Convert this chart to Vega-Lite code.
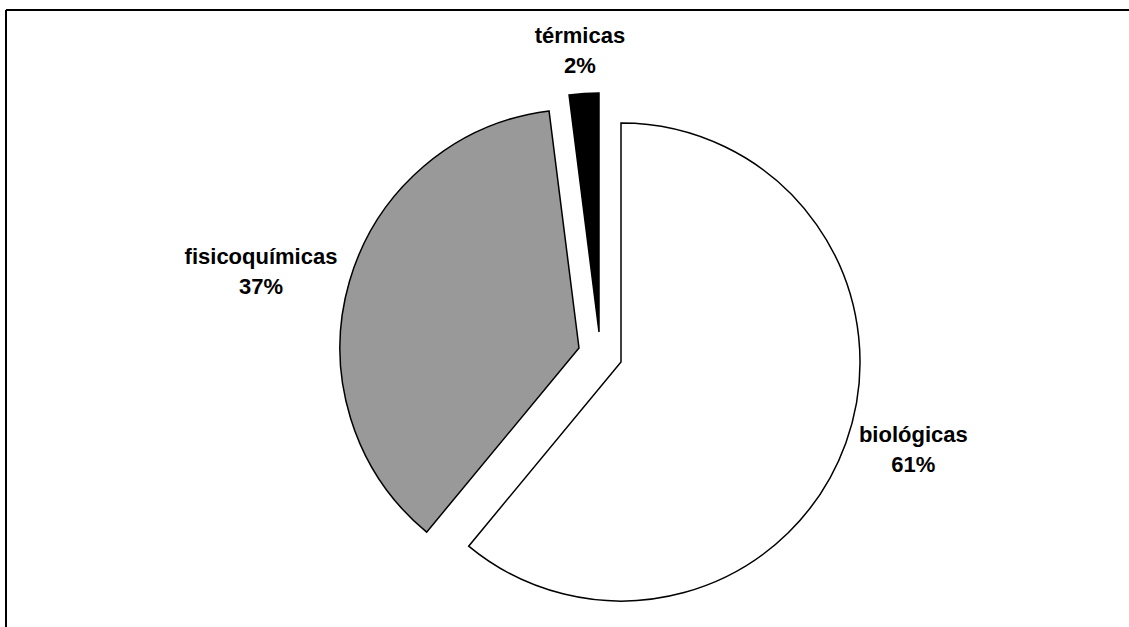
{
  "$schema": "https://vega.github.io/schema/vega-lite/v6.json",
  "width": 1188,
  "height": 690,
  "autosize": {"type": "none"},
  "padding": {"left": 6, "top": 10, "right": -65, "bottom": -73},
  "background": "white",
  "view": {"stroke": null},
  "data": {
    "values": [
      {"categoria": "biológicas", "porcentaje": 61, "orden": 1, "etiqueta": "biológicas\n61%"},
      {"categoria": "fisicoquímicas", "porcentaje": 37, "orden": 2, "etiqueta": "fisicoquímicas\n37%"},
      {"categoria": "térmicas", "porcentaje": 2, "orden": 3, "etiqueta": "térmicas\n2%"}
    ]
  },
  "layer": [
    {
      "mark": {"type": "rule", "color": "black", "strokeWidth": 2},
      "encoding": {"y": {"value": 0}}
    },
    {
      "mark": {"type": "rule", "color": "black", "strokeWidth": 2},
      "encoding": {"x": {"value": 0}, "y": {"value": 0}, "y2": {"value": 617}}
    },
    {
      "encoding": {
        "theta": {"field": "porcentaje", "type": "quantitative", "stack": true},
        "order": {"field": "orden", "type": "quantitative"}
      },
      "layer": [
        {
          "mark": {"type": "arc", "outerRadius": 239, "xOffset": 21, "yOffset": 7, "stroke": "black", "strokeWidth": 1.5, "fill": "white"},
          "encoding": {
            "opacity": {"condition": {"test": "datum.categoria === 'biológicas'", "value": 1}, "value": 0}
          }
        },
        {
          "mark": {"type": "arc", "outerRadius": 239, "xOffset": -21, "yOffset": -7, "stroke": "black", "strokeWidth": 1.5, "fill": "#999999"},
          "encoding": {
            "opacity": {"condition": {"test": "datum.categoria === 'fisicoquímicas'", "value": 1}, "value": 0}
          }
        },
        {
          "mark": {"type": "arc", "outerRadius": 239, "xOffset": -1, "yOffset": -23, "stroke": "black", "strokeWidth": 1.5, "fill": "black"},
          "encoding": {
            "opacity": {"condition": {"test": "datum.categoria === 'térmicas'", "value": 1}, "value": 0}
          }
        },
        {
          "mark": {"type": "text", "radius": 333, "dy": -33, "font": "Liberation Sans", "fontSize": 22, "fontWeight": "bold", "lineBreak": "\n", "lineHeight": 30, "align": "center", "baseline": "middle", "color": "black"},
          "encoding": {
            "text": {"condition": {"test": "datum.categoria === 'biológicas'", "field": "etiqueta"}, "value": ""}
          }
        },
        {
          "mark": {"type": "text", "radius": 353, "font": "Liberation Sans", "fontSize": 22, "fontWeight": "bold", "lineBreak": "\n", "lineHeight": 30, "align": "center", "baseline": "middle", "color": "black"},
          "encoding": {
            "text": {"condition": {"test": "datum.categoria === 'fisicoquímicas'", "field": "etiqueta"}, "value": ""}
          }
        },
        {
          "mark": {"type": "text", "radius": 320, "font": "Liberation Sans", "fontSize": 22, "fontWeight": "bold", "lineBreak": "\n", "lineHeight": 30, "align": "center", "baseline": "middle", "color": "black"},
          "encoding": {
            "text": {"condition": {"test": "datum.categoria === 'térmicas'", "field": "etiqueta"}, "value": ""}
          }
        }
      ]
    }
  ]
}
